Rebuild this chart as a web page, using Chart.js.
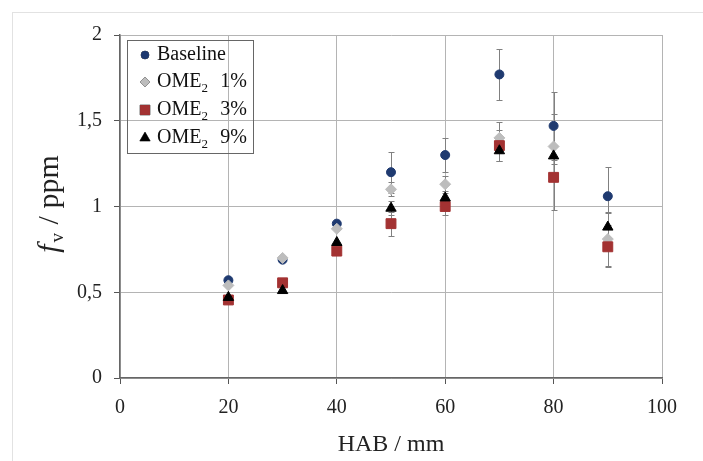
<!DOCTYPE html>
<html>
<head>
<meta charset="utf-8">
<script src="https://cdn.jsdelivr.net/npm/chart.js@4"></script>
<style>
  html, body { margin: 0; padding: 0; background: #fff; }
  #wrap { width: 703px; height: 461px; position: relative; }
</style>
</head>
<body>
<div id="wrap"><canvas id="chartCanvas"></canvas></div>
<script>
// HAB positions (mm)
const hab = [20, 30, 40, 50, 60, 70, 80, 90]

// soot volume fraction, ppm
const baseline = [0.57, 0.69, 0.90, 1.20, 1.30, 1.77, 1.47, 1.06]
const ome1 = [0.54, 0.70, 0.87, 1.10, 1.13, 1.40, 1.35, 0.81]
const ome3 = [0.455, 0.555, 0.74, 0.90, 1.00, 1.355, 1.17, 0.765]
const ome9 = [0.47, 0.51, 0.79, 0.99, 1.05, 1.325, 1.295, 0.88]

// error bar half widths
const baselineErr = [0, 0, 0, 0.12, 0.10, 0.15, 0.20, 0.17]
const ome1Err = [0, 0, 0, 0.04, 0.05, 0.09, 0.19, 0.16]
const ome3Err = [0, 0, 0, 0.07, 0.05, 0.09, 0.19, 0.11]
const ome9Err = [0, 0, 0, 0.04, 0.04, 0.06, 0.05, 0.08]

const xTicks = [0, 20, 40, 60, 80, 100]
const yTicks = [0, 0.5, 1, 1.5, 2]

const serif = "'Liberation Serif', 'DejaVu Serif', serif"

const toPoints = (vals) => vals.map((v, i) => ({ x: hab[i], y: v }))

// light frame around the figure
const framePlugin = {
    id: 'frame',
    beforeDraw(chart) {
        const ctx = chart.ctx
        ctx.save()
        ctx.strokeStyle = '#e2e2e2'
        ctx.lineWidth = 1
        ctx.strokeRect(12.5, 12.5, 800, 800)
        ctx.restore()
    }
}

// error bars, drawn behind the markers
const errorBarPlugin = {
    id: 'errorBars',
    beforeDatasetsDraw(chart) {
        const ctx = chart.ctx
        const xs = chart.scales.x
        const ys = chart.scales.y
        ctx.save()
        ctx.strokeStyle = '#808080'
        ctx.lineWidth = 1
        chart.data.datasets.forEach(ds => {
            ds.data.forEach((p, i) => {
                const e = ds.errors[i]
                if (!e) return
                const px = Math.round(xs.getPixelForValue(p.x)) + 0.5
                const top = Math.round(ys.getPixelForValue(p.y + e)) + 0.5
                const bot = Math.round(ys.getPixelForValue(p.y - e)) + 0.5
                ctx.beginPath()
                ctx.moveTo(px, top)
                ctx.lineTo(px, bot)
                ctx.moveTo(px - 3, top)
                ctx.lineTo(px + 3, top)
                ctx.moveTo(px - 3, bot)
                ctx.lineTo(px + 3, bot)
                ctx.stroke()
            })
        })
        ctx.restore()
    }
}

// y axis title with italic f and subscript v, plus boxed legend
const labelsPlugin = {
    id: 'labels',
    afterDraw(chart) {
        const ctx = chart.ctx
        const area = chart.chartArea
        ctx.save()
        // y title
        ctx.translate(50, 204)
        ctx.rotate(-Math.PI / 2)
        ctx.fillStyle = '#222'
        ctx.textBaseline = 'alphabetic'
        ctx.textAlign = 'left'
        const fMain = '30px ' + serif
        const fIt = 'italic 30px ' + serif
        const fSub = '19px ' + serif
        ctx.font = fIt
        const w1 = ctx.measureText('f').width
        ctx.font = fSub
        const w2 = ctx.measureText('v').width
        ctx.font = fMain
        const w3 = ctx.measureText(' / ppm').width
        let x0 = -(w1 + w2 + 3 + w3) / 2
        ctx.font = fIt
        ctx.fillText('f', x0, 8)
        x0 += w1 + 2
        ctx.font = fSub
        ctx.fillText('v', x0, 13)
        x0 += w2 + 1
        ctx.font = fMain
        ctx.fillText(' / ppm', x0, 8)
        ctx.restore()

        // legend box
        ctx.save()
        ctx.strokeStyle = '#666'
        ctx.lineWidth = 1
        ctx.strokeRect(127.5, 40.5, 126, 113)
        const rows = [55, 82, 110, 138]
        chart.data.datasets.forEach((ds, i) => {
            const y = rows[i]
            Chart.helpers.drawPoint(ctx, {
                pointStyle: ds.pointStyle,
                radius: ds.legendRadius,
                borderWidth: 1
            }, 145, y)
            ctx.fillStyle = ds.backgroundColor
            ctx.strokeStyle = ds.borderColor
            ctx.fill()
            ctx.fillStyle = '#111'
            ctx.textBaseline = 'middle'
            ctx.textAlign = 'left'
            ctx.font = '20px ' + serif
            if (i === 0) {
                ctx.fillText('Baseline', 157, y)
            } else {
                ctx.fillText('OME', 157, y)
                const w = ctx.measureText('OME').width
                ctx.font = '13px ' + serif
                ctx.fillText('2', 157 + w, y + 7)
                ctx.font = '20px ' + serif
                ctx.textAlign = 'right'
                ctx.fillText(ds.pct, 247, y)
            }
            ctx.strokeStyle = '#666'
        })
        ctx.restore()
    }
}

const chartData = {
    datasets: [
        {
            label: 'Baseline',
            data: toPoints(baseline),
            errors: baselineErr,
            pointStyle: 'circle',
            pointRadius: 4.5,
            legendRadius: 4,
            backgroundColor: '#1f3a70',
            borderColor: '#1f3a70',
            order: 4
        },
        {
            label: 'OME2 1%',
            pct: '1%',
            data: toPoints(ome1),
            errors: ome1Err,
            pointStyle: 'rectRot',
            pointRadius: 5.5,
            legendRadius: 5,
            backgroundColor: '#bdbdbd',
            borderColor: '#bdbdbd',
            order: 3
        },
        {
            label: 'OME2 3%',
            pct: '3%',
            data: toPoints(ome3),
            errors: ome3Err,
            pointStyle: 'rect',
            pointRadius: 7,
            legendRadius: 7,
            backgroundColor: '#a33232',
            borderColor: '#a33232',
            order: 2
        },
        {
            label: 'OME2 9%',
            pct: '9%',
            data: toPoints(ome9),
            errors: ome9Err,
            pointStyle: 'triangle',
            pointRadius: 6,
            legendRadius: 6,
            backgroundColor: '#000000',
            borderColor: '#000000',
            order: 1
        }
    ]
}

const config = {
    type: 'scatter',
    data: chartData,
    options: {
        responsive: true,
        maintainAspectRatio: false,
        animation: false,
        layout: {
            padding: { left: 0, right: 41, top: 35, bottom: 0 }
        },
        plugins: {
            legend: { display: false },
            tooltip: { enabled: false }
        },
        elements: {
            point: { borderWidth: 1 }
        },
        scales: {
            x: {
                type: 'linear',
                min: 0,
                max: 100,
                afterBuildTicks: (scale) => { scale.ticks = xTicks.map(v => ({ value: v })) },
                afterFit: (scale) => { scale.height = 83 },
                ticks: {
                    color: '#222',
                    font: { family: serif, size: 20 },
                    padding: 12
                },
                grid: {
                    color: '#b4b4b4',
                    tickColor: '#555',
                    tickLength: 6,
                    lineWidth: 1
                },
                border: { color: '#666', width: 1.5 },
                title: {
                    display: true,
                    text: 'HAB / mm',
                    color: '#222',
                    font: { family: serif, size: 24 },
                    padding: { top: 4, bottom: 2 }
                }
            },
            y: {
                min: 0,
                max: 2,
                afterBuildTicks: (scale) => { scale.ticks = yTicks.map(v => ({ value: v })) },
                afterFit: (scale) => { scale.width = 120 },
                ticks: {
                    color: '#222',
                    font: { family: serif, size: 20 },
                    padding: 12,
                    callback: (v) => String(v).replace('.', ',')
                },
                grid: {
                    color: '#b4b4b4',
                    tickColor: '#555',
                    tickLength: 6,
                    lineWidth: 1
                },
                border: { color: '#666', width: 1.5 }
            }
        }
    },
    plugins: [framePlugin, errorBarPlugin, labelsPlugin]
}

const myChart = new Chart(document.getElementById('chartCanvas'), config)
</script>
</body>
</html>
